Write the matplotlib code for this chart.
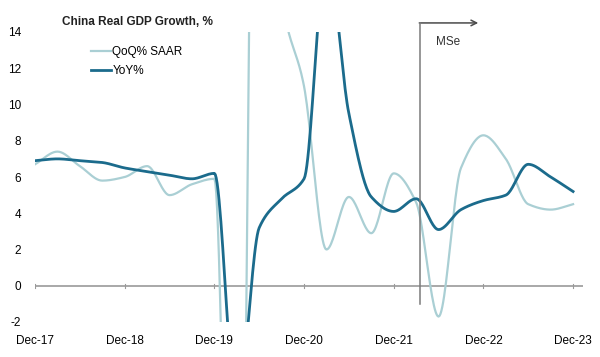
import numpy as np
import matplotlib
matplotlib.use('Agg')
import matplotlib.pyplot as plt

plt.rcParams['font.family'] = ['Liberation Sans Narrow', 'Liberation Sans', 'DejaVu Sans']

# Quarterly, Dec-17 .. Dec-23 (MS estimates from 1Q22)
quarters = ['4Q17', '1Q18', '2Q18', '3Q18', '4Q18', '1Q19', '2Q19', '3Q19', '4Q19',
            '1Q20', '2Q20', '3Q20', '4Q20', '1Q21', '2Q21', '3Q21', '4Q21',
            '1Q22', '2Q22', '3Q22', '4Q22', '1Q23', '2Q23', '3Q23', '4Q23']
qoq_saar = [6.7, 7.4, 6.6, 5.8, 6.0, 6.6, 5.0, 5.6, 5.9,
            -34.0, 50.0, 16.0, 11.0, 2.0, 4.9, 2.9, 6.2,
            4.6, -1.7, 6.5, 8.3, 7.0, 4.5, 4.2, 4.5]
yoy = [6.9, 7.0, 6.9, 6.8, 6.5, 6.3, 6.1, 5.9, 6.2,
       -6.8, 3.2, 4.8, 5.9, 18.3, 9.5, 4.9, 4.1,
       4.8, 3.1, 4.2, 4.7, 5.0, 6.7, 6.0, 5.2]
tick_labels = ['Dec-17', 'Dec-18', 'Dec-19', 'Dec-20', 'Dec-21', 'Dec-22', 'Dec-23']
forecast_start = 17.17   # position of the "MSe" divider in quarter units


def smooth(y, n=24):
    """Monotone cubic (Fritsch-Carlson) curve through the points."""
    y = np.asarray(y, dtype=float)
    x = np.arange(len(y), dtype=float)
    d = np.diff(y)
    m = np.zeros_like(y)
    m[0], m[-1] = d[0], d[-1]
    for i in range(1, len(y) - 1):
        if d[i - 1] * d[i] > 0:
            m[i] = 2 / (1 / d[i - 1] + 1 / d[i])
    xs, ys = [], []
    t = np.linspace(0, 1, n, endpoint=False)
    for i in range(len(y) - 1):
        h00 = 2 * t ** 3 - 3 * t ** 2 + 1
        h10 = t ** 3 - 2 * t ** 2 + t
        h01 = -2 * t ** 3 + 3 * t ** 2
        h11 = t ** 3 - t ** 2
        xs.append(x[i] + t)
        ys.append(h00 * y[i] + h10 * m[i] + h01 * y[i + 1] + h11 * m[i + 1])
    xs.append([x[-1]])
    ys.append([y[-1]])
    return np.concatenate(xs), np.concatenate(ys)


fig = plt.figure(figsize=(6, 3.57), dpi=100)
ax = fig.add_axes([35 / 600, 1 - 322 / 357, 548 / 600, 290 / 357])

light = '#aacfd4'
dark = '#1b6b8c'

xq, yq = smooth(qoq_saar)
xy, yy = smooth(yoy)
ax.plot(xq, yq, color=light, lw=1.6, label='QoQ% SAAR', zorder=2)
ax.plot(xy, yy, color=dark, lw=2.0, label='YoY%', zorder=3)

ax.set_xlim(0, 548 / 22.42)
ax.set_ylim(-2, 14)

# zero line with small ticks
ax.axhline(0, color='#9a9a9a', lw=1.2, zorder=1)
tick_pos = np.arange(0, len(quarters), 4)
for tp in tick_pos:
    ax.plot([tp, tp], [-0.12, 0.12], color='#9a9a9a', lw=0.8, zorder=1)

for s in ax.spines.values():
    s.set_visible(False)
ax.set_xticks(tick_pos)
ax.set_xticklabels(tick_labels, fontsize=8.5)
ax.set_yticks(np.arange(-2, 15, 2))
ax.set_yticklabels([str(v) for v in range(-2, 15, 2)], fontsize=8.5)
ax.tick_params(axis='both', length=0)
ax.tick_params(axis='y', pad=10)
ax.tick_params(axis='x', pad=9)

# MSe forecast divider with arrow
ax.plot([forecast_start, forecast_start], [-1.0, 14.5], color='#7a7a7a', lw=1.1,
        clip_on=False, zorder=4)
ax.annotate('', xy=(forecast_start + 2.6, 14.5), xytext=(forecast_start - 0.03, 14.5),
            xycoords='data', annotation_clip=False,
            arrowprops=dict(arrowstyle='->', color='#4a4a4a', lw=1.1, shrinkA=0, shrinkB=0))
ax.text(forecast_start + 0.7, 13.45, 'MSe', fontsize=8.5, va='center', ha='left', color='#333333')

fig.text(62 / 600, 1 - 22 / 357, 'China Real GDP Growth, %', fontsize=8.5, fontweight='bold',
         va='center', ha='left', color='#222222')

ax.legend(loc='upper left', bbox_to_anchor=(56 / 548, 1 - 14 / 290), frameon=False,
          fontsize=8.5, handlelength=1.7, handletextpad=0.1, labelspacing=0.6,
          borderaxespad=0, borderpad=0)

fig.savefig('out.png', dpi=100, facecolor='white')
